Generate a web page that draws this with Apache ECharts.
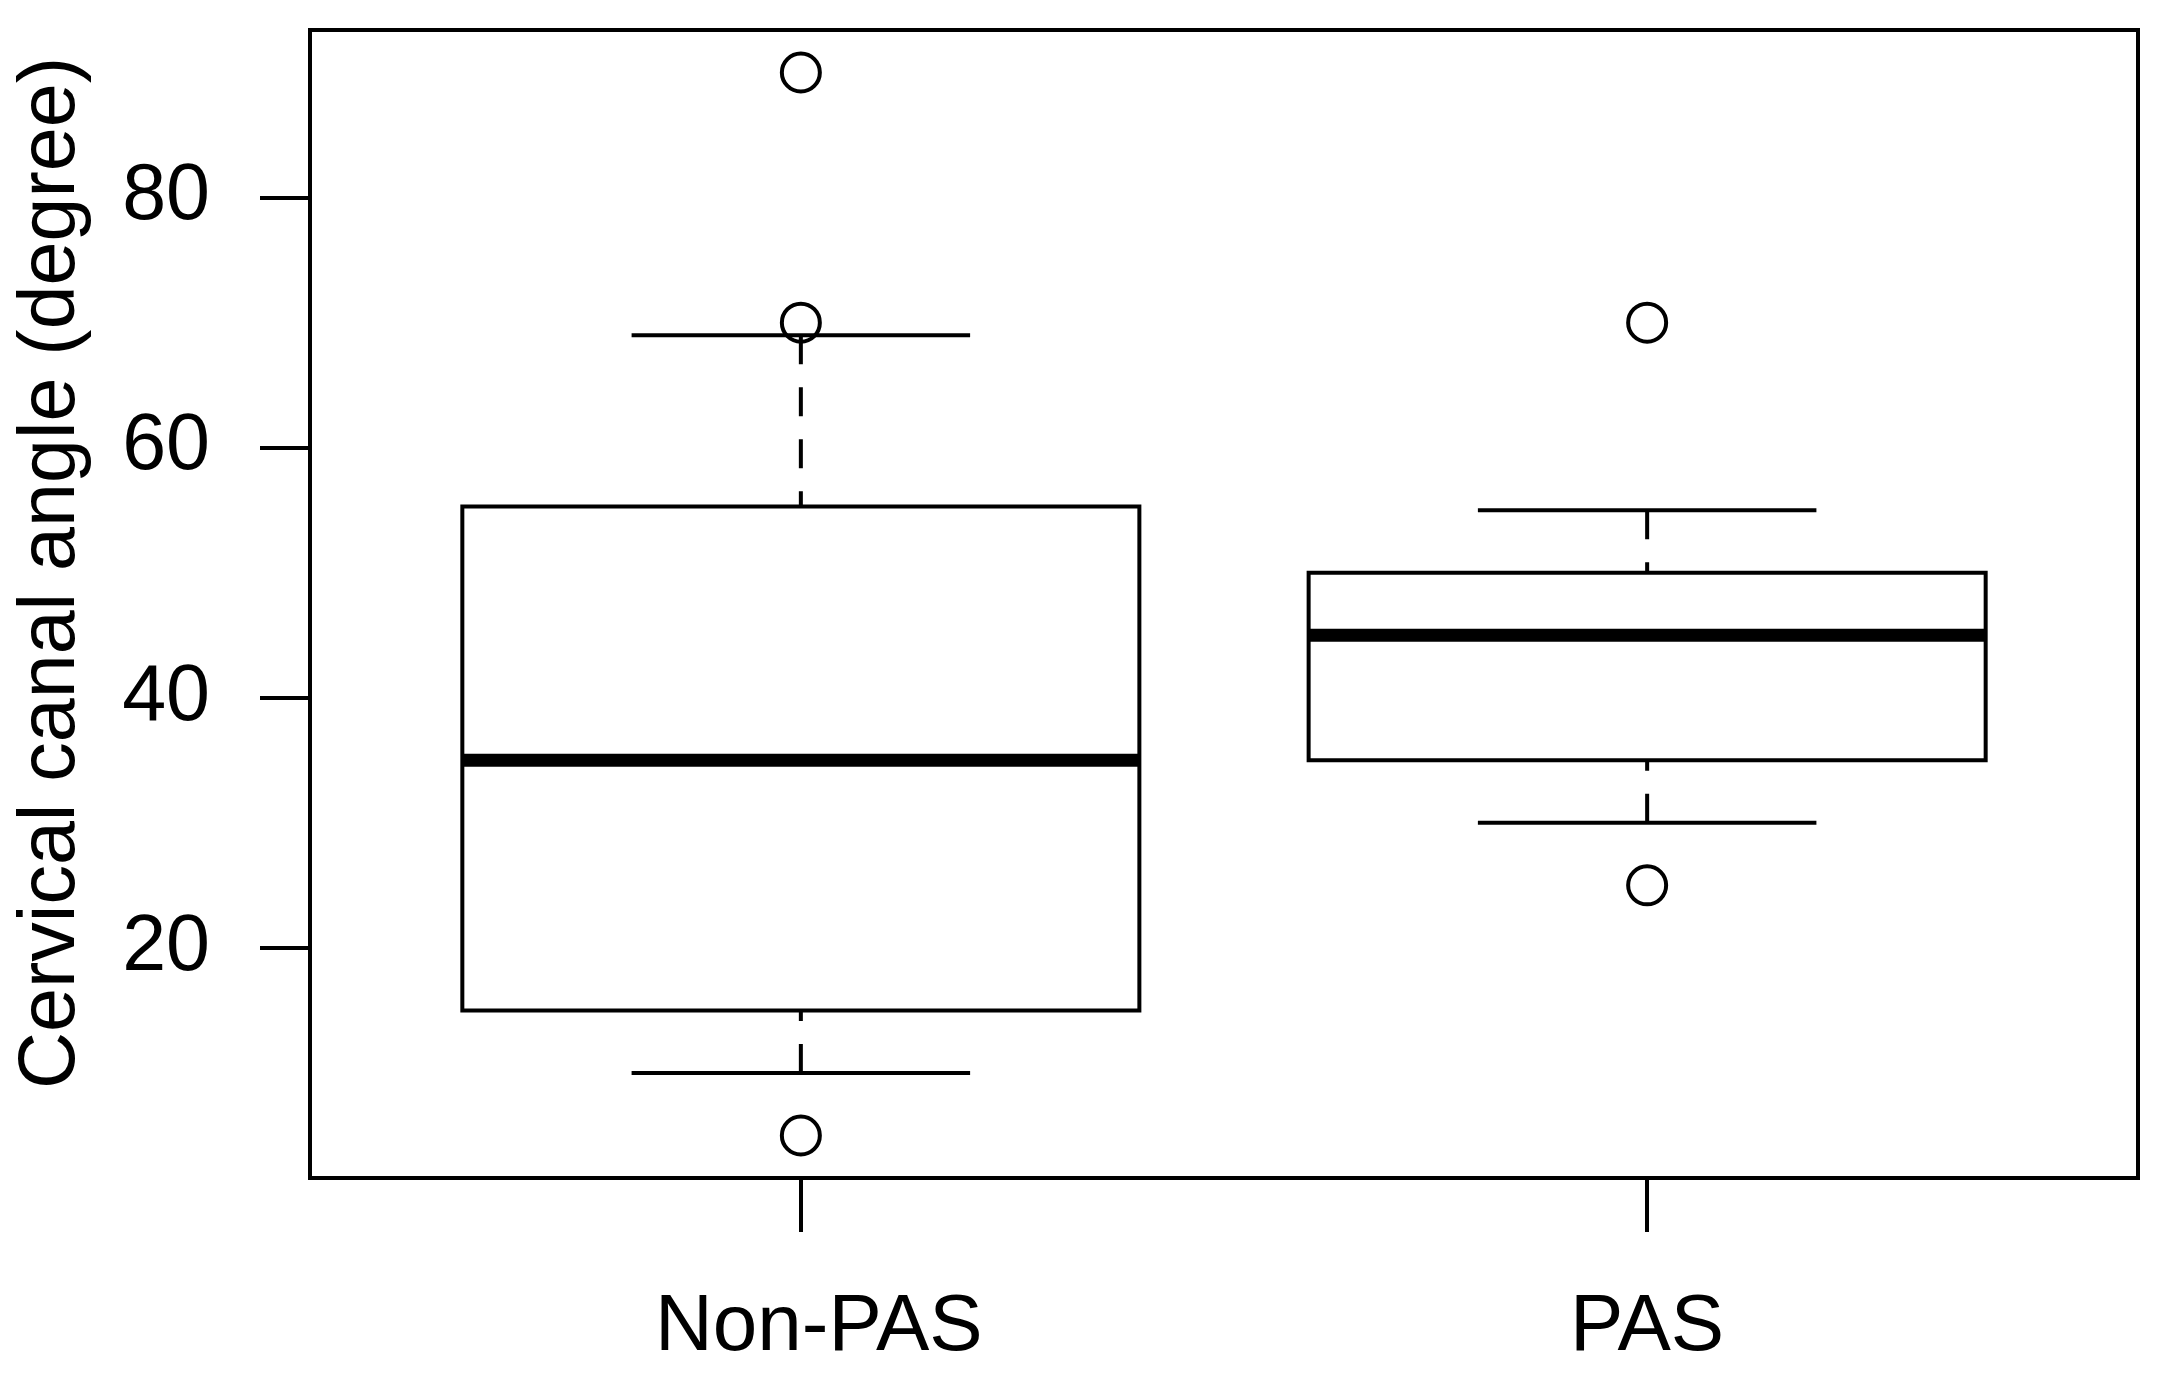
<!DOCTYPE html>
<html>
<head>
<meta charset="utf-8">
<title>Cervical canal angle</title>
<script src="https://cdn.jsdelivr.net/npm/echarts@6/dist/echarts.min.js"></script>
<style>
  html, body { margin: 0; padding: 0; background: #fff; }
  #chart { width: 2160px; height: 1380px; }
</style>
</head>
<body>
<div id="chart"></div>
<script>
// box statistics per group
var categories = ['Non-PAS', 'PAS'];
var whiskerLow = [10, 30];
var q1 = [15, 35];
var median = [35, 45];
var q3 = [55.3, 50];
var whiskerHigh = [69, 55];
// outliers: group index + value
var outlierGroup = [0, 0, 0, 1, 1];
var outlierValue = [90, 70, 5, 70, 25];
var yTicks = [20, 40, 60, 80];

var FONT = 'Liberation Sans, Arial, sans-serif';
var BOX_W = 0.8;   // box width in x units
var CAP_W = 0.4;   // staple width

var boxData = categories.map(function (c, i) {
  return [i + 1, whiskerLow[i], q1[i], median[i], q3[i], whiskerHigh[i]];
});
var outlierData = outlierGroup.map(function (g, i) {
  return [g + 1, outlierValue[i]];
});

function renderBox(params, api) {
  var x = api.value(0);
  var lo = api.coord([x, api.value(1)]);
  var b1 = api.coord([x, api.value(2)]);
  var md = api.coord([x, api.value(3)]);
  var b3 = api.coord([x, api.value(4)]);
  var hi = api.coord([x, api.value(5)]);
  var halfBox = api.size([BOX_W, 0])[0] / 2;
  var halfCap = api.size([CAP_W, 0])[0] / 2;
  var cx = lo[0];
  var solid = { stroke: '#000', lineWidth: 4, fill: null };
  var dashed = { stroke: '#000', lineWidth: 4, lineDash: [29, 23] };
  return {
    type: 'group',
    children: [
      // whiskers, dashes start at the staple
      { type: 'line', shape: { x1: cx, y1: hi[1], x2: cx, y2: b3[1] }, style: dashed },
      { type: 'line', shape: { x1: cx, y1: lo[1], x2: cx, y2: b1[1] }, style: dashed },
      { type: 'line', shape: { x1: cx - halfCap, y1: hi[1], x2: cx + halfCap, y2: hi[1] }, style: solid },
      { type: 'line', shape: { x1: cx - halfCap, y1: lo[1], x2: cx + halfCap, y2: lo[1] }, style: solid },
      {
        type: 'rect',
        shape: { x: cx - halfBox, y: b3[1], width: halfBox * 2, height: b1[1] - b3[1] },
        style: { stroke: '#000', lineWidth: 4, fill: '#fff' }
      },
      { type: 'line', shape: { x1: cx - halfBox, y1: md[1], x2: cx + halfBox, y2: md[1] }, style: { stroke: '#000', lineWidth: 13 } }
    ]
  };
}

var chart = echarts.init(document.getElementById('chart'));
chart.setOption({
  animation: false,
  backgroundColor: '#fff',
  grid: {
    left: 310, right: 22, top: 30, bottom: 202,
    show: true, borderColor: '#000', borderWidth: 4, backgroundColor: 'transparent',
    outerBoundsMode: 'none'
  },
  xAxis: {
    type: 'value',
    min: 0.42,
    max: 2.58,
    axisLine: { show: false },
    splitLine: { show: false },
    axisTick: { show: true, length: 54, lineStyle: { color: '#000', width: 4 }, customValues: [1, 2] },
    axisLabel: {
      customValues: [1, 2],
      margin: 110,
      color: '#000',
      fontFamily: FONT,
      fontSize: 80,
      formatter: function (v) {
        var i = Math.round(v) - 1;
        return i === 0 ? '{shift|' + categories[i] + '}' : categories[i];
      },
      rich: {
        shift: { fontFamily: FONT, fontSize: 80, color: '#000', padding: [0, 0, 0, 36] }
      }
    }
  },
  yAxis: {
    type: 'value',
    min: 1.6,
    max: 93.4,
    name: 'Cervical canal angle (degree)',
    nameLocation: 'middle',
    nameGap: 218,
    nameTextStyle: { color: '#000', fontFamily: FONT, fontSize: 79, padding: [0, 0, 0, 62] },
    axisLine: { show: false },
    splitLine: { show: false },
    axisTick: { show: true, length: 50, lineStyle: { color: '#000', width: 4 }, customValues: yTicks },
    axisLabel: { customValues: yTicks, margin: 100, color: '#000', fontFamily: FONT, fontSize: 79 }
  },
  series: [
    {
      type: 'custom',
      renderItem: renderBox,
      data: boxData,
      encode: { x: 0, y: [1, 2, 3, 4, 5] },
      z: 2
    },
    {
      type: 'scatter',
      data: outlierData,
      symbol: 'circle',
      symbolSize: 38,
      itemStyle: { color: 'rgba(0,0,0,0)', borderColor: '#000', borderWidth: 4, opacity: 1 },
      z: 3
    }
  ]
});
</script>
</body>
</html>
